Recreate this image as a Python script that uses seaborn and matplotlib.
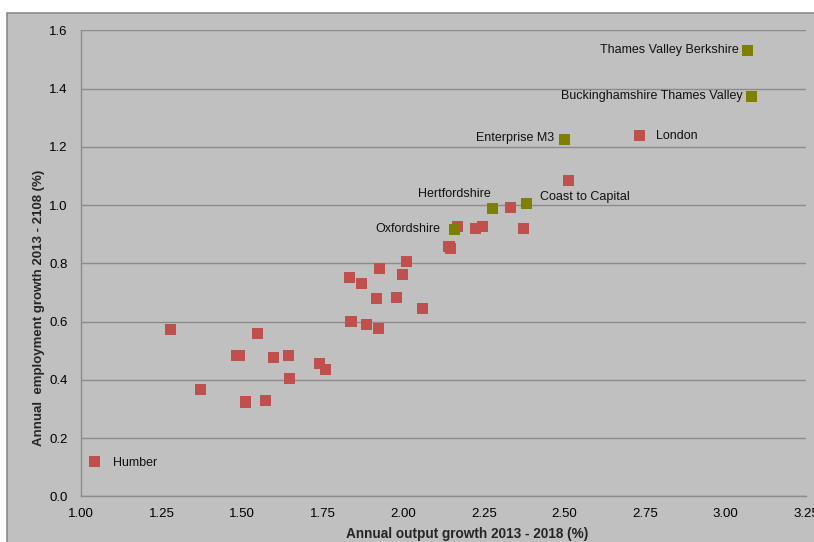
import matplotlib
matplotlib.use("Agg")
import matplotlib.pyplot as plt
import seaborn as sns
import pandas as pd
from matplotlib.patches import Rectangle

# ---- data ----
red_x = [1.043, 1.278, 1.372, 1.482, 1.492, 1.510, 1.547, 1.573, 1.597, 1.644,
         1.647, 1.740, 1.758, 1.833, 1.870, 1.925, 1.917, 1.838, 1.885, 1.924,
         1.978, 1.998, 2.010, 2.059, 2.142, 2.147, 2.168, 2.223, 2.245, 2.332,
         2.372, 2.512, 2.734]
red_y = [0.120, 0.573, 0.367, 0.484, 0.484, 0.324, 0.559, 0.330, 0.478, 0.484,
         0.405, 0.455, 0.437, 0.751, 0.731, 0.782, 0.678, 0.601, 0.591, 0.577,
         0.684, 0.763, 0.806, 0.646, 0.859, 0.850, 0.927, 0.921, 0.927, 0.992,
         0.920, 1.086, 1.239]
olive_names = ["Thames Valley Berkshire", "Buckinghamshire Thames Valley",
               "Enterprise M3", "Coast to Capital", "Hertfordshire", "Oxfordshire"]
olive_x = [3.068, 3.082, 2.500, 2.382, 2.276, 2.158]
olive_y = [1.531, 1.374, 1.226, 1.005, 0.989, 0.917]
red_labels = {0: "Humber", 32: "London"}

x_ticks = [1.00, 1.25, 1.50, 1.75, 2.00, 2.25, 2.50, 2.75, 3.00, 3.25]
y_ticks = [0.0, 0.2, 0.4, 0.6, 0.8, 1.0, 1.2, 1.4, 1.6]

df = pd.DataFrame({
    "x": red_x + olive_x,
    "y": red_y + olive_y,
    "group": ["other"] * len(red_x) + ["south"] * len(olive_x),
})

sns.set_style("white")
FONT = ["Liberation Sans", "DejaVu Sans"]
plt.rcParams["font.family"] = FONT

BG = "#c0c0c0"
fig = plt.figure(figsize=(8.14, 5.42), dpi=100)
fig.patch.set_facecolor("white")
bgrect = Rectangle((7 / 814, -0.01), 1.0, 1.01 - 13 / 542, transform=fig.transFigure,
                   facecolor=BG, edgecolor="#8a8a8a", linewidth=1.2, zorder=-10)
fig.add_artist(bgrect)

ax = fig.add_axes([81 / 814, 1 - 496.4 / 542, (806 - 81) / 814, (496.4 - 30.4) / 542])
ax.set_zorder(1)
ax.set_facecolor(BG)

sns.scatterplot(data=df, x="x", y="y", hue="group",
                palette={"other": "#c0504d", "south": "#808000"},
                marker="s", s=64, linewidth=0, legend=False, ax=ax, zorder=3)

ax.set_xlim(1.0, 3.25)
ax.set_ylim(0.0, 1.6)
ax.set_xticks(x_ticks)
ax.set_xticklabels([f"{t:.2f}" for t in x_ticks])
ax.set_yticks(y_ticks)
ax.set_yticklabels([f"{t:.1f}" for t in y_ticks])
ax.yaxis.grid(True, color="#8c8c8c", linewidth=1.0)
ax.xaxis.grid(False)
ax.set_axisbelow(True)
for side in ["top", "right"]:
    ax.spines[side].set_visible(False)
for side in ["left", "bottom"]:
    ax.spines[side].set_color("#8c8c8c")
    ax.spines[side].set_linewidth(1.0)
ax.tick_params(axis="both", which="major", direction="out", length=3, width=1,
               color="#8c8c8c", labelsize=9.5, labelcolor="black")
ax.tick_params(axis="y", pad=6.5)
ax.tick_params(axis="x", pad=5)

ax.set_xlabel("Annual output growth 2013 - 2018 (%)", fontsize=9.8, fontweight="bold")
ax.xaxis.set_label_coords((467 - 81) / 725, -0.065)
ax.set_ylabel("Annual  employment growth 2013 - 2108 (%)", fontsize=9.5, fontweight="bold")
ax.yaxis.set_label_coords(-0.05, (496.4 - 308) / 466)

lab_kw = dict(fontsize=9, color="#111111", textcoords="offset points", zorder=4)
offsets = {
    "Thames Valley Berkshire": ((-6.5, 0), "right", "center"),
    "Buckinghamshire Thames Valley": ((-6.5, 0), "right", "center"),
    "Enterprise M3": ((-7, 1), "right", "center"),
    "Coast to Capital": ((10, 5), "left", "center"),
    "Hertfordshire": ((-27, 10), "center", "center"),
    "Oxfordshire": ((-10, 0), "right", "center"),
}
for name, xv, yv in zip(olive_names, olive_x, olive_y):
    off, ha, va = offsets[name]
    ax.annotate(name, (xv, yv), xytext=off, ha=ha, va=va, **lab_kw)
red_offsets = {"Humber": (13, -1), "London": (12, 0)}
for idx, name in red_labels.items():
    ax.annotate(name, (red_x[idx], red_y[idx]), xytext=red_offsets[name],
                ha="left", va="center", **lab_kw)

fig.savefig("out.png", dpi=100, facecolor=fig.get_facecolor())
